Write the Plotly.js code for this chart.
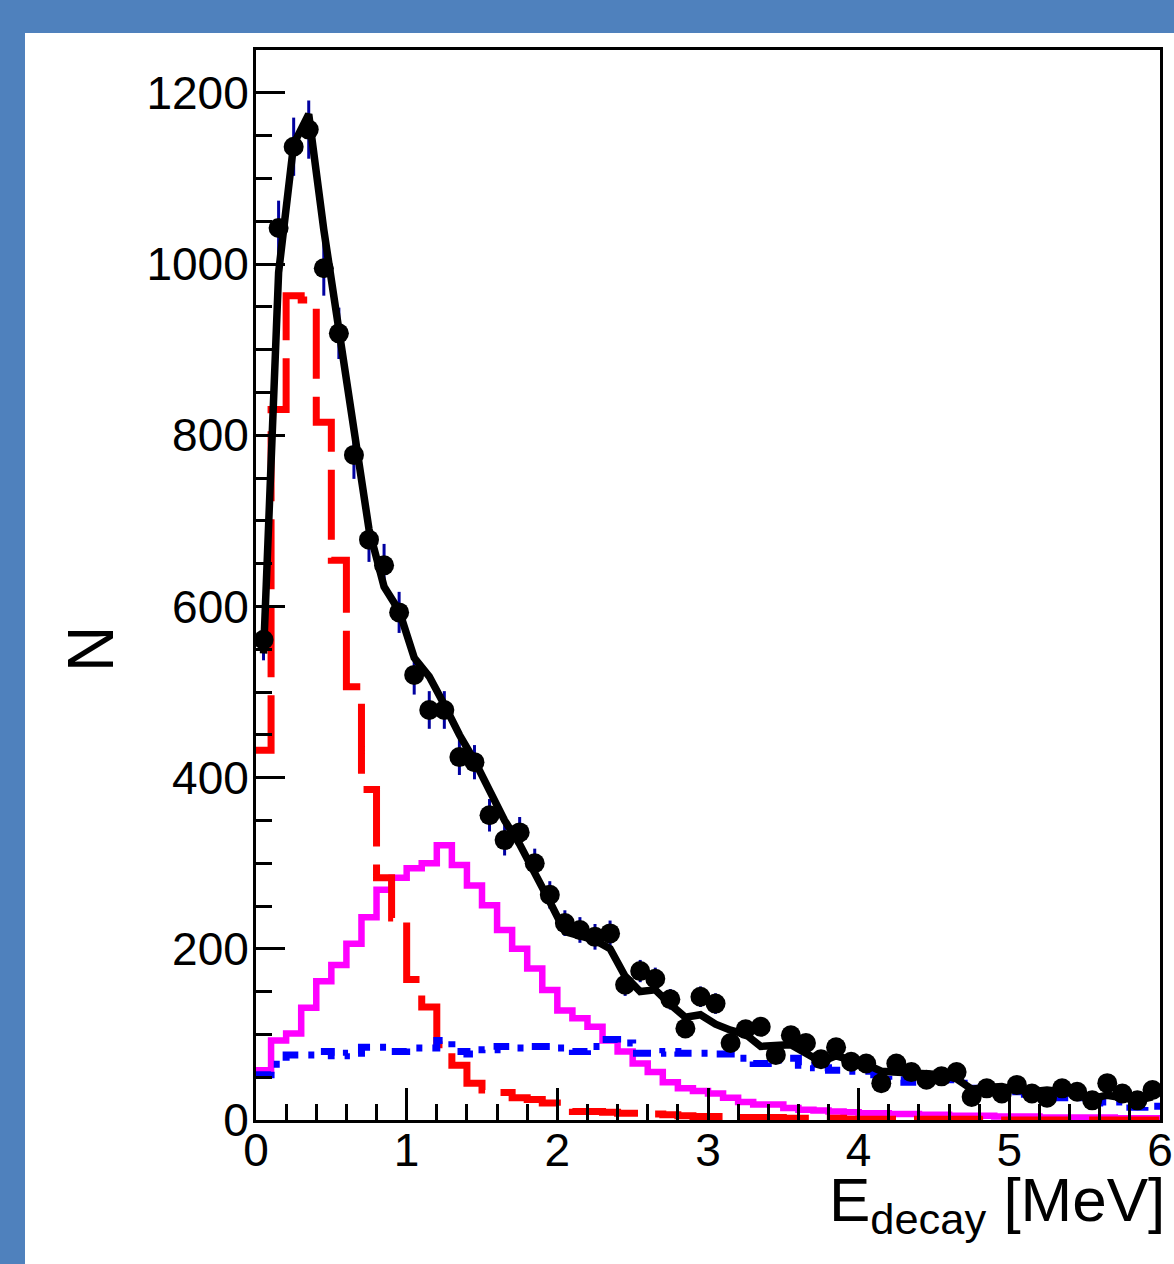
<!DOCTYPE html>
<html>
<head>
<meta charset="utf-8">
<script src="https://cdn.plot.ly/plotly-3.0.1.min.js"></script>
<style>
  html, body { margin: 0; padding: 0; background: #4f81bd; }
  #chart { width: 1174px; height: 1264px; }
</style>
</head>
<body>
<div id="chart"></div>
<script>
// ---- Data ----
const E_MIN = 0, E_MAX = 6, BIN_W = 0.1;   // histogram binning in MeV

// Component 1 (red dashed histogram)
const redCounts = [432, 830, 963, 958, 815, 654, 506, 386, 283, 236,
                   164, 132, 88, 64, 43, 35, 32, 26, 24, 20,
                   14, 10, 10, 9, 8, 8, 7, 6, 5, 4,
                   4, 4, 3, 3, 3, 2, 2, 2, 2, 1,
                   1, 1, 1, 1, 1, 1, 1, 1, 0, 0,
                   0, 0, 0, 0, 0, 0, 0, 0, 0, 0];

// Component 2 (magenta solid histogram)
const magentaCounts = [58, 93, 101, 131, 162, 181, 206, 237, 269, 283,
                       294, 300, 321, 298, 274, 251, 222, 200, 177, 152,
                       128, 119, 109, 93, 80, 66, 56, 44, 37, 34,
                       31, 26, 21, 18, 18, 14, 12, 11, 10, 9,
                       8, 8, 7, 7, 6, 6, 5, 5, 5, 4,
                       4, 4, 3, 3, 3, 3, 3, 2, 2, 2];

// Component 3 (blue dash-dot histogram, background)
const blueCounts = [53, 65, 76, 76, 80, 75, 78, 85, 85, 80,
                    84, 84, 93, 80, 77, 82, 86, 84, 86, 86,
                    84, 80, 86, 94, 90, 78, 78, 80, 78, 78,
                    77, 77, 72, 66, 70, 72, 64, 61, 58, 57,
                    57, 53, 47, 44, 46, 49, 47, 37, 35, 35,
                    33, 30, 27, 26, 26, 20, 21, 21, 15, 16];

// Measured data points and their error bars
const dataCounts = [561, 1042, 1137, 1157, 995, 919, 777, 678, 648, 593,
                    520, 479, 479, 424, 418, 356, 327, 336, 300, 263,
                    230, 222, 214, 218, 158, 174, 165, 141, 107, 144,
                    136, 90, 106, 109, 76, 99, 90, 71, 85, 68,
                    66, 43, 66, 56, 47, 51, 56, 27, 37, 31,
                    41, 31, 26, 37, 33, 23, 43, 31, 23, 35];
const dataErrors = [24, 32, 34, 34, 32, 30, 28, 26, 25, 24,
                    23, 22, 22, 21, 20, 19, 18, 18, 17, 16,
                    15, 15, 15, 15, 13, 13, 13, 12, 10, 12,
                    12, 9, 10, 10, 9, 10, 9, 8, 9, 8,
                    8, 7, 8, 7, 7, 7, 7, 5, 6, 6,
                    6, 6, 5, 6, 6, 5, 7, 6, 5, 6];

// Total fit (black solid line)
const fitCounts = [545, 990, 1140, 1175, 1040, 920, 795, 690, 623, 595,
                   540, 518, 485, 450, 420, 385, 350, 322, 290, 255,
                   220, 214, 210, 200, 168, 150, 152, 135, 120, 123,
                   112, 105, 100, 86, 88, 88, 78, 68, 75, 70,
                   65, 57, 55, 55, 54, 53, 48, 36, 38, 39,
                   35, 33, 35, 33, 31, 25, 29, 26, 23, 27];

const yTickVals = [0, 200, 400, 600, 800, 1000, 1200];
const xTickVals = [0, 1, 2, 3, 4, 5, 6];

// ---- Binning helpers ----
const nBins = redCounts.length;
const binEdges = [];
for (let i = 0; i <= nBins; i++) binEdges.push(+(E_MIN + i * BIN_W).toFixed(3));
const binCenters = [];
for (let i = 0; i < nBins; i++) binCenters.push(+(E_MIN + (i + 0.5) * BIN_W).toFixed(3));
function stepY(vals) { return vals.concat([vals[vals.length - 1]]); }

const traces = [
  {
    type: 'scatter', mode: 'lines', x: binEdges, y: stepY(magentaCounts),
    line: { shape: 'hv', color: '#ff00ff', width: 6.5 }, hoverinfo: 'skip', showlegend: false
  },
  {
    type: 'scatter', mode: 'lines', x: binEdges, y: stepY(redCounts),
    line: { shape: 'hv', color: '#ff0000', width: 7, dash: '70px,18px' }, hoverinfo: 'skip', showlegend: false
  },
  {
    type: 'scatter', mode: 'lines', x: binEdges, y: stepY(blueCounts),
    line: { shape: 'hv', color: '#0000ff', width: 7, dash: '18px,10px,6px,10px' }, hoverinfo: 'skip', showlegend: false
  },
  {
    type: 'scatter', mode: 'markers', x: binCenters, y: dataCounts,
    marker: { color: '#000000', size: 20, symbol: 'circle' },
    error_y: { type: 'data', array: dataErrors, visible: true, color: '#0000a0', thickness: 3, width: 0 },
    showlegend: false
  },
  {
    type: 'scatter', mode: 'lines', x: binCenters, y: fitCounts,
    line: { color: '#000000', width: 7.5 }, showlegend: false
  }
];

const W = 1174, H = 1264;
const L = 256, R = 14, T = 50, B = 144;
const pw = W - L - R, ph = H - T - B;
function px2x(p) { return (p - L) / pw; }
function px2y(p) { return (H - B - p) / ph; }

const tickFont = { family: '"Liberation Sans", Arial, Helvetica, sans-serif', size: 46, color: '#000000' };

const layout = {
  width: W, height: H,
  margin: { l: L, r: R, t: T, b: B, pad: 0 },
  paper_bgcolor: '#4f81bd',
  plot_bgcolor: '#ffffff',
  showlegend: false,
  xaxis: {
    range: [E_MIN, E_MAX],
    tickvals: xTickVals, ticktext: xTickVals.map(String),
    ticks: 'inside', ticklen: 32, tickwidth: 3, tickcolor: '#000000',
    minor: { dtick: 0.2, ticks: 'inside', ticklen: 16, tickwidth: 3, tickcolor: '#000000' },
    showline: true, linecolor: '#000000', linewidth: 3, mirror: true,
    showgrid: false, zeroline: false,
    tickfont: tickFont, ticklabelstandoff: -12
  },
  yaxis: {
    range: [0, 1250],
    tickvals: yTickVals, ticktext: yTickVals.map(String),
    ticks: 'inside', ticklen: 29, tickwidth: 3, tickcolor: '#000000',
    minor: { dtick: 50, ticks: 'inside', ticklen: 16, tickwidth: 3, tickcolor: '#000000' },
    showline: true, linecolor: '#000000', linewidth: 3, mirror: true,
    showgrid: false, zeroline: false,
    tickfont: tickFont, ticklabelstandoff: -5
  },
  shapes: [
    {
      type: 'rect', xref: 'paper', yref: 'paper', layer: 'below',
      x0: px2x(25), x1: px2x(W + 10), y0: px2y(H + 10), y1: px2y(33),
      fillcolor: '#ffffff', line: { width: 0 }
    }
  ],
  annotations: [
    {
      xref: 'paper', yref: 'paper', x: px2x(1167), y: px2y(1163),
      xanchor: 'right', yanchor: 'top', showarrow: false,
      text: 'E<sub>decay</sub> [MeV]',
      font: { family: '"Liberation Sans", Arial, Helvetica, sans-serif', size: 62, color: '#000000' }
    },
    {
      xref: 'paper', yref: 'paper', x: px2x(91), y: px2y(649),
      xanchor: 'center', yanchor: 'middle', showarrow: false, textangle: -90,
      text: 'N',
      font: { family: '"Liberation Sans", Arial, Helvetica, sans-serif', size: 64, color: '#000000' }
    }
  ]
};

Plotly.newPlot('chart', traces, layout, { displayModeBar: false, staticPlot: true });
</script>
</body>
</html>
